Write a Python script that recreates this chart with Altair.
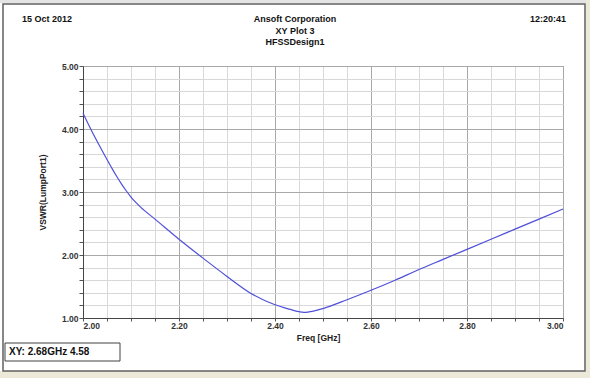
import altair as alt
import pandas as pd

# ---- data ----
freq = [2.00, 2.02, 2.04, 2.06, 2.07, 2.08, 2.09, 2.10, 2.11, 2.12, 2.15, 2.20,
        2.25, 2.30, 2.35, 2.40, 2.43, 2.45, 2.46, 2.48, 2.50, 2.55, 2.60, 2.65,
        2.70, 2.75, 2.80, 2.85, 2.90, 2.95, 3.00]
vswr = [4.25, 3.94, 3.655, 3.38, 3.25, 3.13, 3.02, 2.92, 2.835, 2.76, 2.57, 2.25,
        1.95, 1.66, 1.39, 1.21, 1.14, 1.10, 1.09, 1.11, 1.15, 1.29, 1.44, 1.60,
        1.77, 1.93, 2.09, 2.25, 2.41, 2.57, 2.73]

x_ticks = [2.00, 2.05, 2.10, 2.15, 2.20, 2.25, 2.30, 2.35, 2.40, 2.45, 2.50,
           2.55, 2.60, 2.65, 2.70, 2.75, 2.80, 2.85, 2.90, 2.95, 3.00]
y_ticks = [1.0, 1.2, 1.4, 1.6, 1.8, 2.0, 2.2, 2.4, 2.6, 2.8, 3.0, 3.2, 3.4, 3.6,
           3.8, 4.0, 4.2, 4.4, 4.6, 4.8, 5.0]

title_lines = ["Ansoft Corporation", "XY Plot 3", "HFSSDesign1"]
date_text = "15 Oct 2012"
time_text = "12:20:41"
marker_text = "XY: 2.68GHz 4.58"

df = pd.DataFrame({"freq": freq, "vswr": vswr})
one = pd.DataFrame({"a": [0]})

FONT = "Liberation Sans Narrow, Liberation Sans, Arial"

x_major = "abs(datum.value*5 - round(datum.value*5)) < 0.001"
y_major = "abs(datum.value - round(datum.value)) < 0.001"

line = alt.Chart(df).mark_line(color="#4f4fda", strokeWidth=1.2, interpolate="monotone").encode(
    x=alt.X("freq:Q",
            scale=alt.Scale(domain=[2.0, 3.0], nice=False, zero=False),
            axis=alt.Axis(values=x_ticks,
                          labelExpr=f"{x_major} ? format(datum.value, '.2f') : ''",
                          title="Freq [GHz]", titleX=235, titleY=19,
                          titleBaseline="middle", titleAlign="center",
                          grid=True,
                          gridColor={"condition": {"test": x_major, "value": "#a8a8a8"}, "value": "#d8d8d8"},
                          tickSize=3, tickColor="#555", labelPadding=0,
                          domainColor="#444")),
    y=alt.Y("vswr:Q",
            scale=alt.Scale(domain=[1.0, 5.0], nice=False, zero=False),
            axis=alt.Axis(values=y_ticks,
                          labelExpr=f"{y_major} ? format(datum.value, '.2f') : ''",
                          title="VSWR(LumpPort1)", titleX=-41, titleY=126,
                          titleBaseline="middle", titleAlign="center",
                          grid=True,
                          gridColor={"condition": {"test": y_major, "value": "#a8a8a8"}, "value": "#d8d8d8"},
                          tickSize=4, tickColor="#555", labelPadding=1,
                          domainColor="#444")),
)

# window chrome / frame (pixel positions relative to plot origin at 83,66)
top_strip = alt.Chart(one).mark_rect(color="#e4e4e4").encode(
    x=alt.value(-83), x2=alt.value(507), y=alt.value(-66), y2=alt.value(-63))
bottom_strip = alt.Chart(one).mark_rect(color="#ece9d8").encode(
    x=alt.value(-83), x2=alt.value(507), y=alt.value(305), y2=alt.value(312))
right_strip = alt.Chart(one).mark_rect(color="#ece9d8").encode(
    x=alt.value(503), x2=alt.value(507), y=alt.value(-66), y2=alt.value(312))
frame = alt.Chart(one).mark_rect(fill="transparent", stroke="#606060", strokeWidth=1.5).encode(
    x=alt.value(-80), x2=alt.value(502), y=alt.value(-62), y2=alt.value(305))
xy_box = alt.Chart(one).mark_rect(fill="white", stroke="#404040", strokeWidth=1).encode(
    x=alt.value(-78), x2=alt.value(37), y=alt.value(277), y2=alt.value(295))

def txt(s, x, y, align="center", size=9):
    return alt.Chart(one).mark_text(text=s, align=align, baseline="middle",
                                    font=FONT, fontWeight="bold", fontSize=size,
                                    color="#111").encode(x=alt.value(x), y=alt.value(y))

texts = [
    txt(date_text, -61, -47, "left"),
    txt(title_lines[0], 212, -47),
    txt(title_lines[1], 212, -35),
    txt(title_lines[2], 212, -24),
    txt(time_text, 483, -47, "right"),
    txt(marker_text, -74, 286, "left", 10),
]

chart = alt.layer(top_strip, bottom_strip, right_strip, frame, xy_box, line, *texts).properties(
    width=480, height=252,
    padding={"left": 83, "top": 66, "right": 27, "bottom": 60},
    autosize=alt.AutoSizeParams(type="none"),
    background="white",
).configure_view(stroke="#888888", strokeWidth=1).configure_axis(
    labelFont=FONT, labelFontSize=8.5, labelFontWeight="bold", labelColor="#333",
    titleFont=FONT, titleFontSize=8.5, titleFontWeight="bold", titleColor="#222",
)

chart.save("out.html", embed_options={"renderer": "svg", "actions": False})
